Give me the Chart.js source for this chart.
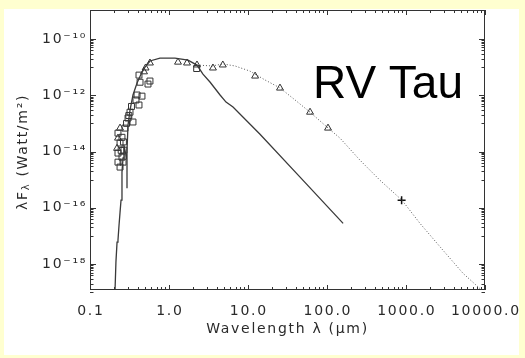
<!DOCTYPE html>
<html>
<head>
<meta charset="utf-8">
<script src="https://cdn.jsdelivr.net/npm/chart.js@4.4.1/dist/chart.umd.min.js"></script>
<style>
  html, body { margin: 0; padding: 0; width: 525px; height: 358px; overflow: hidden; background: #FFFFD0; }
  #panel { position: absolute; left: 4px; top: 9px; width: 515px; height: 346px; background: #ffffff; }
  canvas { display: block; }
</style>
</head>
<body>
<div id="panel"><canvas id="sed" width="515" height="346"></canvas></div>
<script>
// Stellar photosphere: UV spectrum joined to the model continuum (solid line)
const photWave = [0.205, 0.207, 0.213, 0.220, 0.226, 0.233, 0.240, 0.247, 0.254, 0.254, 0.262, 0.269,
                  0.294, 0.294, 0.294, 0.303, 0.321, 0.350, 0.394, 0.442, 0.497, 0.574, 0.768, 1.19,
                  1.74, 2.26, 2.69, 3.3, 4.43, 5.27, 6.46, 14.1, 45.6, 160];
const photFlux = [8e-20, 1.0e-19, 1.2e-18, 6.0e-18, 7.1e-18, 2.4e-17, 6.9e-17, 1.86e-16, 5.9e-16, 1.86e-15, 5.9e-15, 1.7e-14,
                  4.9e-15, 5.0e-16, 1.12e-14, 8.7e-14, 2.95e-13, 1.02e-12, 2.7e-12, 5.6e-12, 1.0e-11, 1.65e-11, 2.1e-11, 2.1e-11,
                  1.78e-11, 1.18e-11, 5.6e-12, 2.95e-12, 1.02e-12, 5.7e-13, 3.8e-13, 4.2e-14, 1.23e-15, 2.8e-17];

// Circumstellar dust model (dotted line)
const dustWave = [2.26, 3.5, 4.83, 6.84, 10.6, 16.4, 25.4, 39.4, 61, 100, 146, 262, 469, 890, 1503, 2940, 5270, 9700];
const dustFlux = [1.18e-11, 1.1e-11, 1.29e-11, 1.1e-11, 7.2e-12, 3.5e-12, 1.82e-12, 6.8e-13, 2.5e-13, 7.4e-14,
                  3.0e-14, 4.9e-15, 9.5e-16, 1.86e-16, 2.8e-17, 3.1e-18, 4.7e-19, 1.0e-19];

// Photometry (triangles)
const triWave = [0.220, 0.226, 0.240, 0.483, 0.505, 0.574, 1.3, 1.69, 2.26, 3.6, 4.8, 12.3, 25.4, 61, 103];
const triFlux = [1.3e-14, 3.0e-14, 6.8e-14, 6.8e-12, 9.3e-12, 1.4e-11, 1.5e-11, 1.4e-11, 1.19e-11, 9.3e-12,
                 1.19e-11, 4.8e-12, 1.8e-12, 2.5e-13, 6.8e-14];

// Photometry (squares)
const sqWave = [0.574, 0.542, 0.417, 0.430, 0.394, 0.455, 0.382, 0.417, 0.350, 0.321, 0.303, 0.277,
                0.254, 0.226, 0.240, 0.226, 0.254, 0.226, 0.262, 0.240, 0.269, 2.24,
                0.290, 0.310, 0.335, 0.265, 0.248];
const sqFlux = [3.2e-12, 2.5e-12, 5.2e-12, 2.9e-12, 1.02e-12, 9.3e-13, 6.8e-13, 4.5e-13, 1.12e-13, 2.5e-13,
                1.55e-13, 6.8e-14, 3.2e-14, 4.5e-14, 2.0e-14, 8.8e-15, 6.3e-15, 4.2e-15, 4.2e-15, 2.8e-15,
                1.12e-14, 8.9e-12,
                1.0e-13, 1.9e-13, 4.0e-13, 2.2e-14, 1.1e-14];

// Millimetre point (cross)
const mmWave = [880];
const mmFlux = [1.86e-16];

// Axis decades and their labels
const xMajor = [0.1, 1, 10, 100, 1000, 10000];
const xTickLabels = ['0.1', '1.0', '10.0', '100.0', '1000.0', '10000.0'];
const yMajor = [1e-18, 1e-16, 1e-14, 1e-12, 1e-10];
const yTickLabels = ['10⁻¹⁸', '10⁻¹⁶', '10⁻¹⁴', '10⁻¹²', '10⁻¹⁰'];

const xMin = 0.1, xMax = 10000;
const yMin = 1.2e-19, yMax = 1.07e-9;

const pts = (xs, ys) => xs.map((v, i) => ({ x: v, y: ys[i] }));

// tick positions: x minor ticks 2..9 per decade; y minor ticks in the decade below each labelled one
const xTickValues = [];
xMajor.forEach((d, i) => {
  if (i < xMajor.length - 1) { for (let k = 1; k <= 9; k++) xTickValues.push(d * k); }
  else xTickValues.push(d);
});
const yTickValues = [];
yMajor.forEach(d => {
  for (let k = 1; k <= 9; k++) yTickValues.push(d / 10 * k);
  yTickValues.push(d);
});

const isMajor = (list, v) => list.some(m => Math.abs(Math.log10(m) - Math.log10(v)) < 1e-6);

const TEXT = '#2a2a2a';
const FONT = { family: 'DejaVu Sans', size: 14 };
const SPACING = 1.7;

const axesFrame = {
  id: 'axesFrame',
  beforeDraw(chart) {
    chart.ctx.letterSpacing = SPACING + 'px';
  },
  afterDraw(chart) {
    const { ctx, chartArea: a, scales: { x, y } } = chart;
    ctx.save();
    ctx.letterSpacing = '0px';
    ctx.strokeStyle = '#333';
    ctx.lineWidth = 1;
    ctx.strokeRect(a.left + 0.5, a.top + 0.5, a.right - a.left - 1, a.bottom - a.top - 1);
    ctx.beginPath();
    x.ticks.forEach(t => {
      const px = Math.round(x.getPixelForValue(t.value)) + 0.5;
      const L = isMajor(xMajor, t.value) ? 5 : 3;
      ctx.moveTo(px, a.bottom); ctx.lineTo(px, a.bottom - L);
      ctx.moveTo(px, a.top); ctx.lineTo(px, a.top + L);
    });
    y.ticks.forEach(t => {
      const py = Math.round(y.getPixelForValue(t.value)) + 0.5;
      const L = isMajor(yMajor, t.value) ? 6 : 3.5;
      ctx.moveTo(a.left, py); ctx.lineTo(a.left + L, py);
      ctx.moveTo(a.right, py); ctx.lineTo(a.right - L, py);
    });
    ctx.stroke();

    ctx.fillStyle = TEXT;
    ctx.letterSpacing = SPACING + 'px';
    ctx.font = '14px "DejaVu Sans"';
    ctx.textAlign = 'left';

    // x decade labels, centred under each decade tick
    ctx.textBaseline = 'alphabetic';
    xMajor.forEach((v, i) => {
      const w = ctx.measureText(xTickLabels[i]).width - SPACING;
      ctx.fillText(xTickLabels[i], x.getPixelForValue(v) - w / 2, 306);
    });

    // y axis title with subscript lambda
    ctx.textBaseline = 'middle';
    const big = '14px "DejaVu Sans"', small = '10px "DejaVu Sans"';
    const parts = [['λF', big, 0], ['λ', small, 3], [' (Watt/m²)', big, 0]];
    let total = 0;
    parts.forEach(p => { ctx.font = p[1]; total += ctx.measureText(p[0]).width; });
    ctx.translate(19, (a.top + a.bottom) / 2 + 2);
    ctx.rotate(-Math.PI / 2);
    let cx = -total / 2;
    parts.forEach(p => {
      ctx.font = p[1];
      ctx.fillText(p[0], cx, p[2]);
      cx += ctx.measureText(p[0]).width;
    });
    ctx.restore();

    // object name
    ctx.save();
    ctx.letterSpacing = '0px';
    ctx.fillStyle = '#000';
    ctx.font = '46px "Liberation Sans"';
    ctx.textAlign = 'left';
    ctx.textBaseline = 'alphabetic';
    ctx.fillText('RV Tau', 309, 89);
    ctx.restore();
    ctx.letterSpacing = '0px';
  }
};

new Chart(document.getElementById('sed'), {
  type: 'scatter',
  data: {
    datasets: [
      { label: 'dust', data: pts(dustWave, dustFlux), showLine: true, pointRadius: 0,
        borderColor: '#555', borderWidth: 1, borderDash: [1, 2] },
      { label: 'photosphere', data: pts(photWave, photFlux), showLine: true, pointRadius: 0,
        borderColor: '#3a3a3a', borderWidth: 1.3 },
      { label: 'squares', data: pts(sqWave, sqFlux), pointStyle: 'rect', pointRadius: 4.2,
        backgroundColor: 'rgba(0,0,0,0)', borderColor: '#333', borderWidth: 1 },
      { label: 'triangles', data: pts(triWave, triFlux), pointStyle: 'triangle', pointRadius: 4,
        backgroundColor: 'rgba(0,0,0,0)', borderColor: '#333', borderWidth: 1 },
      { label: 'mm', data: pts(mmWave, mmFlux), pointStyle: 'cross', pointRadius: 4,
        borderColor: '#111', borderWidth: 1.5 }
    ]
  },
  options: {
    responsive: false,
    animation: false,
    events: [],
    layout: { autoPadding: false, padding: { top: 1, right: 34, left: 0, bottom: 0 } },
    plugins: { legend: { display: false }, tooltip: { enabled: false } },
    scales: {
      x: {
        type: 'logarithmic', position: 'bottom', min: xMin, max: xMax,
        grid: { display: false, drawTicks: false },
        border: { display: false },
        afterBuildTicks: s => { s.ticks = xTickValues.map(v => ({ value: v })); },
        afterFit: s => { s.height = 65; s.paddingLeft = 0; s.paddingRight = 0; },
        ticks: { display: false, autoSkip: false, maxRotation: 0, minRotation: 0 },
        title: { display: true, text: 'Wavelength λ (µm)', color: TEXT, font: FONT, padding: { top: 0, bottom: 17 } }
      },
      y: {
        type: 'logarithmic', position: 'left', min: yMin, max: yMax,
        grid: { display: false, drawTicks: false },
        border: { display: false },
        afterBuildTicks: s => { s.ticks = yTickValues.map(v => ({ value: v })); },
        afterFit: s => { s.width = 86; s.paddingTop = 0; s.paddingBottom = 0; },
        ticks: {
          autoSkip: false, padding: 3, color: TEXT, font: FONT,
          callback: v => { const i = yMajor.findIndex(m => Math.abs(Math.log10(m) - Math.log10(v)) < 1e-6); return i >= 0 ? yTickLabels[i] : ''; }
        }
      }
    }
  },
  plugins: [axesFrame]
});
</script>
</body>
</html>
